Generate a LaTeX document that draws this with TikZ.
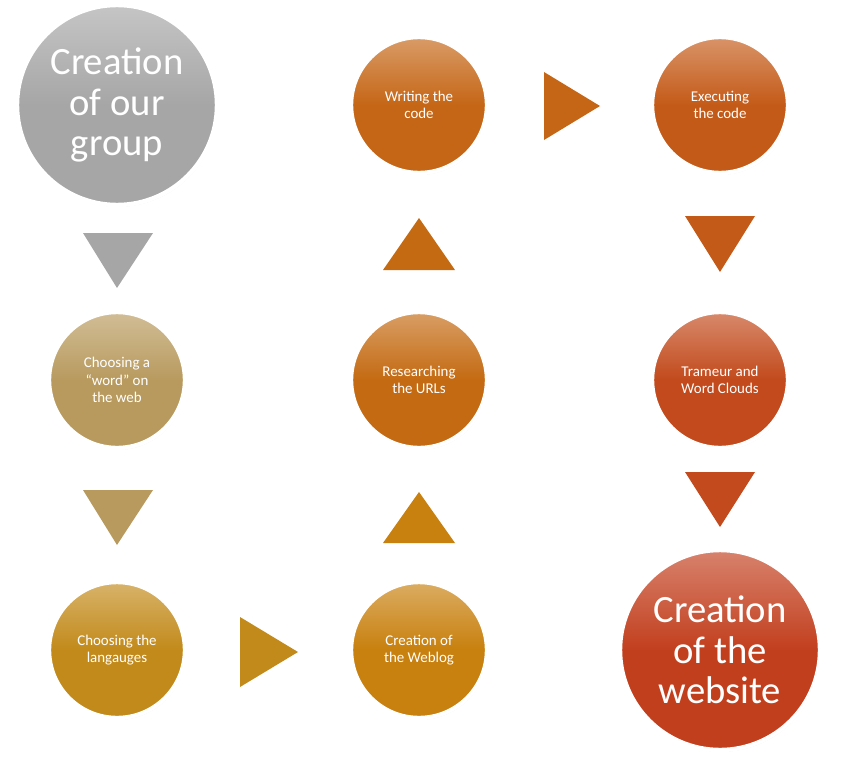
\documentclass[tikz,border=0pt]{standalone}
\usepackage{fontspec}
\setmainfont{Carlito}
\definecolor{cgray}{HTML}{A6A6A6}
\definecolor{ctan}{HTML}{B89A5E}
\definecolor{cgold}{HTML}{C28A1A}
\definecolor{cweb}{HTML}{C8800E}
\definecolor{curl}{HTML}{C46A12}
\definecolor{cwrite}{HTML}{C56616}
\definecolor{cexec}{HTML}{C45A18}
\definecolor{ctram}{HTML}{C24A1C}
\definecolor{csite}{HTML}{C23F1E}
\tikzset{
	ball/.style={circle, draw=white, line width=2.5pt, minimum size=2.72cm, text=white,
		align=center, font=\fontsize{8.5}{10}\selectfont,
		top color=#1!65!white, bottom color=#1, middle color=#1,
		drop shadow={opacity=0.25, shadow xshift=0.5pt, shadow yshift=-1pt}},
	bigball/.style={ball=#1, minimum size=4cm, font=\fontsize{22}{23}\selectfont},
}
\usetikzlibrary{shadows}
\begin{document}
\begin{tikzpicture}[x=0.02cm, y=-0.02cm]
	\useasboundingbox (0,0) rectangle (841,767);

	\node[bigball=cgray] (group) at (117,105) {Creation\\of our\\group};
	\node[ball=ctan] (word) at (117,380) {Choosing a\\``word'' on\\the web};
	\node[ball=cgold] (lang) at (117,650) {Choosing the\\langauges};
	\node[ball=cweb] (weblog) at (419,650) {Creation of\\the Weblog};
	\node[ball=curl] (urls) at (419,380) {Researching\\the URLs};
	\node[ball=cwrite] (write) at (419,105) {Writing the\\code};
	\node[ball=cexec] (exec) at (720,105) {Executing\\the code};
	\node[ball=ctram] (tram) at (720,380) {Trameur and\\Word Clouds};
	\node[bigball=csite] (site) at (720,650) {Creation\\of the\\website};

	% arrows between the steps
	\fill[cgray] (83,233) -- (153,233) -- (117,288) -- cycle;
	\fill[ctan] (83,490) -- (153,490) -- (117,545) -- cycle;
	\fill[cgold] (240,617) -- (298,652) -- (240,687) -- cycle;
	\fill[cweb] (383,543) -- (455,543) -- (419,492) -- cycle;
	\fill[curl] (383,270) -- (455,270) -- (419,218) -- cycle;
	\fill[cwrite] (544,72) -- (600,106) -- (544,140) -- cycle;
	\fill[cexec] (685,216) -- (755,216) -- (720,272) -- cycle;
	\fill[ctram] (685,472) -- (755,472) -- (720,527) -- cycle;
\end{tikzpicture}
\end{document}
